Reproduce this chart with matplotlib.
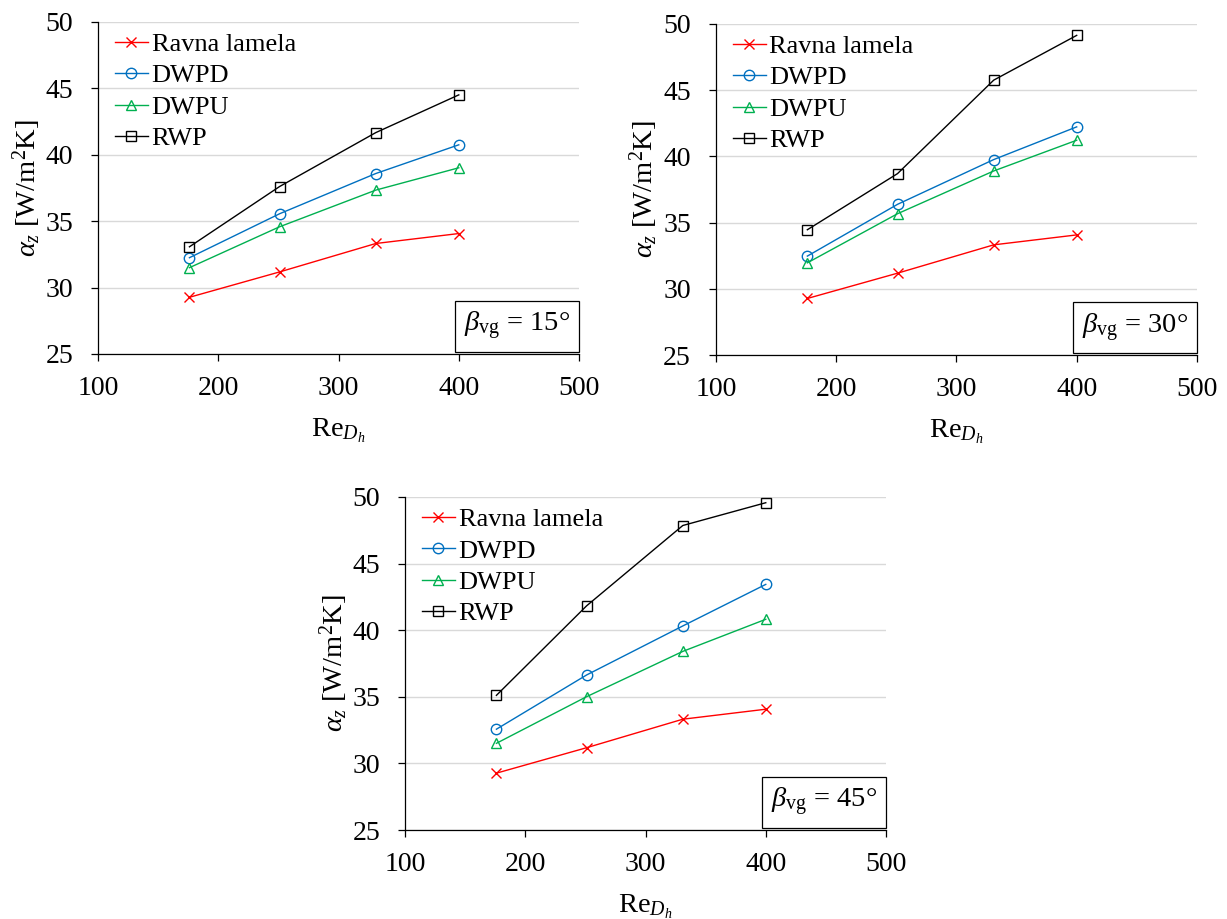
import numpy as np
import matplotlib
matplotlib.use('Agg')
import matplotlib.pyplot as plt

# Reynolds numbers (same for all cases)
re_dh = [176, 251, 331, 400]

series_names = ['Ravna lamela', 'DWPD', 'DWPU', 'RWP']
angles = [15, 30, 45]

# heat transfer coefficient alpha_z [W/m2K]
ravna = [29.27, 31.18, 33.32, 34.07]
dwpd_15 = [32.25, 35.56, 38.59, 40.75]
dwpu_15 = [31.50, 34.58, 37.34, 39.02]
rwp_15 = [33.07, 37.61, 41.67, 44.51]
dwpd_30 = [32.47, 36.38, 39.76, 42.23]
dwpu_30 = [31.96, 35.67, 38.90, 41.22]
rwp_30 = [34.46, 38.70, 45.76, 49.14]
dwpd_45 = [32.57, 36.64, 40.32, 43.44]
dwpu_45 = [31.51, 35.01, 38.41, 40.82]
rwp_45 = [35.11, 41.83, 47.86, 49.57]

cases = [
    [ravna, dwpd_15, dwpu_15, rwp_15],
    [ravna, dwpd_30, dwpu_30, rwp_30],
    [ravna, dwpd_45, dwpu_45, rwp_45],
]

colors = ['#FF0000', '#0070C0', '#00B050', '#000000']
markers = ['x', 'o', '^', 's']

plt.rcParams['font.family'] = ['Liberation Serif', 'DejaVu Serif']
plt.rcParams['mathtext.fontset'] = 'custom'
plt.rcParams['mathtext.rm'] = 'Liberation Serif'
plt.rcParams['mathtext.it'] = 'Liberation Serif:italic'
plt.rcParams['mathtext.bf'] = 'Liberation Serif:bold'

fig = plt.figure(figsize=(12.27, 9.19), dpi=100)
positions = [
    [0.0799, 0.6148, 0.392, 0.3613],
    [0.5835, 0.6137, 0.392, 0.3602],
    [0.3301, 0.0968, 0.392, 0.3624],
]

for pos, data, angle in zip(positions, cases, angles):
    ax = fig.add_axes(pos)
    for values, name, col, mk in zip(data, series_names, colors, markers):
        ax.plot(re_dh, values, color=col, marker=mk, markersize=7.5,
                markerfacecolor='none', markeredgecolor=col,
                markeredgewidth=1.0, linewidth=1.0, label=name,
                clip_on=False, zorder=3)

    ax.set_xlim(100, 500)
    ax.set_ylim(25, 50)
    ax.set_xticks([100, 200, 300, 400, 500])
    ax.set_yticks([25, 30, 35, 40, 45, 50])
    ax.yaxis.grid(True, color='#D9D9D9', linewidth=1.0)
    ax.set_axisbelow(True)
    for side in ['top', 'right']:
        ax.spines[side].set_visible(False)
    for side in ['left', 'bottom']:
        ax.spines[side].set_linewidth(0.9)
    ax.tick_params(axis='both', direction='out', length=5, width=0.9,
                   labelsize=20)
    ax.tick_params(axis='y', pad=13)
    ax.tick_params(axis='x', pad=11)

    ax.set_xlabel(r'Re$_{D_h}$', fontsize=20.5, labelpad=11)
    ax.set_ylabel(r'$\alpha_z$ [W/m$^2$K]', fontsize=20.5, labelpad=2)

    ax.legend(loc='upper left', bbox_to_anchor=(0.035, 0.968),
              frameon=False, fontsize=19, borderpad=0, borderaxespad=0,
              handlelength=1.25, handletextpad=0.14, labelspacing=0.3,
              numpoints=1)

    ax.text(0.981, 0.084, r'$\beta_{\mathrm{vg}}$ = %d°' % angle,
            transform=ax.transAxes, ha='right', va='center', fontsize=20.5,
            bbox=dict(boxstyle='square,pad=0.32', facecolor='white',
                      edgecolor='black', linewidth=0.9))

plt.savefig('out.png', dpi=100)
